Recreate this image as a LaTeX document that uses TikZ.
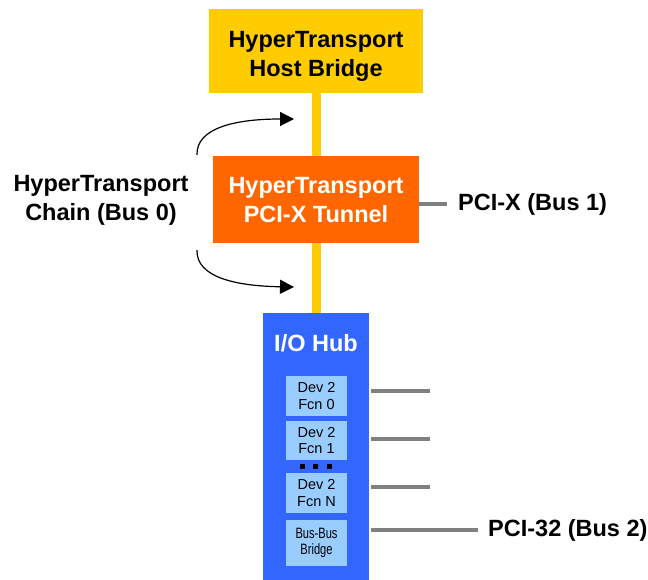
\documentclass[tikz,border=0pt]{standalone}
\usepackage{fontspec}
\setmainfont{Liberation Sans}
\usetikzlibrary{arrows.meta}
\definecolor{htgold}{HTML}{FFCC00}
\definecolor{htorange}{HTML}{FF6600}
\definecolor{hubblue}{HTML}{3366FF}
\definecolor{devblue}{HTML}{99CCFF}
\definecolor{busgray}{HTML}{808080}
\tikzset{
  bigbox/.style={draw=none, inner sep=0pt},
  devbox/.style={fill=devblue, draw=none, inner sep=0pt, minimum width=61pt, align=center, font=\fontsize{14.5}{16.5}\selectfont},
  htlink/.style={draw=htgold, line width=9pt},
  busline/.style={draw=busgray, line width=4.5pt},
  lbl/.style={inner sep=0pt, align=center, font=\fontsize{23.5}{29}\selectfont\bfseries},
  flowarrow/.style={draw=black, line width=1.2pt, -{Triangle[length=14pt,width=14pt]}},
  dotsq/.style={fill=black, draw=none, minimum size=5pt, inner sep=0pt}
}
\begin{document}
\begin{tikzpicture}[x=1pt,y=-1pt]
\useasboundingbox (0,0) rectangle (648,580);
% main boxes
\node[bigbox, fill=htgold, minimum width=214pt, minimum height=84pt] (host) at (316,51) {};
\node[lbl] (hostt) at (316,56) {HyperTransport\\Host Bridge};
\node[bigbox, fill=htorange, minimum width=206pt, minimum height=87pt] (tunnel) at (316,199.5) {};
\node[lbl, text=white] (tunnelt) at (316,200) {HyperTransport\\PCI-X Tunnel};
\node[bigbox, fill=hubblue, minimum width=106pt, minimum height=267pt] (hub) at (316,446.5) {};
\node[lbl, text=white] (hubt) at (316,343) {I/O Hub};
% HT links
\draw[htlink] (host.south) -- (tunnel.north);
\draw[htlink] (tunnel.south) -- (hub.north);
% devices
\node[devbox, minimum height=40pt] (d0) at (316.5,396) {Dev 2\\Fcn 0};
\node[devbox, minimum height=39pt] (d1) at (316.5,440.5) {Dev 2\\Fcn 1};
\node[devbox, minimum height=40pt] (dn) at (316.5,493) {Dev 2\\Fcn N};
\node[devbox, minimum height=46pt, font=\fontsize{15}{16.5}\selectfont] (bb) at (316.5,543) {\scalebox{0.74}[1]{Bus-Bus}\\\scalebox{0.74}[1]{Bridge}};
\node[dotsq] (dot1) at (302,466) {};
\node[dotsq] (dot2) at (315.5,466) {};
\node[dotsq] (dot3) at (329,466) {};
% bus lines
\coordinate (b1a) at (419,204);
\coordinate (b1b) at (447,204);
\draw[busline] (b1a) -- (b1b);
\node[lbl, anchor=west] (pcix) at (458,204) {PCI-X (Bus 1)};
\coordinate (l0a) at (371,391); \coordinate (l0b) at (430,391);
\coordinate (l1a) at (371,439); \coordinate (l1b) at (430,439);
\coordinate (l2a) at (371,487); \coordinate (l2b) at (430,487);
\coordinate (l3a) at (371,530); \coordinate (l3b) at (478,530);
\draw[busline] (l0a) -- (l0b);
\draw[busline] (l1a) -- (l1b);
\draw[busline] (l2a) -- (l2b);
\draw[busline] (l3a) -- (l3b);
\node[lbl, anchor=west] (pci32) at (488,530) {PCI-32 (Bus 2)};
% chain label and arrows
\node[lbl] (chain) at (101,200.5) {HyperTransport\\Chain (Bus 0)};
\coordinate (a1s) at (197,155);
\coordinate (a1e) at (294,119);
\coordinate (a2s) at (197,250);
\coordinate (a2e) at (294,287);
\draw[flowarrow] (a1s) .. controls (196,128) and (235,119) .. (a1e);
\draw[flowarrow] (a2s) .. controls (196,277) and (235,286) .. (a2e);
\end{tikzpicture}
\end{document}
